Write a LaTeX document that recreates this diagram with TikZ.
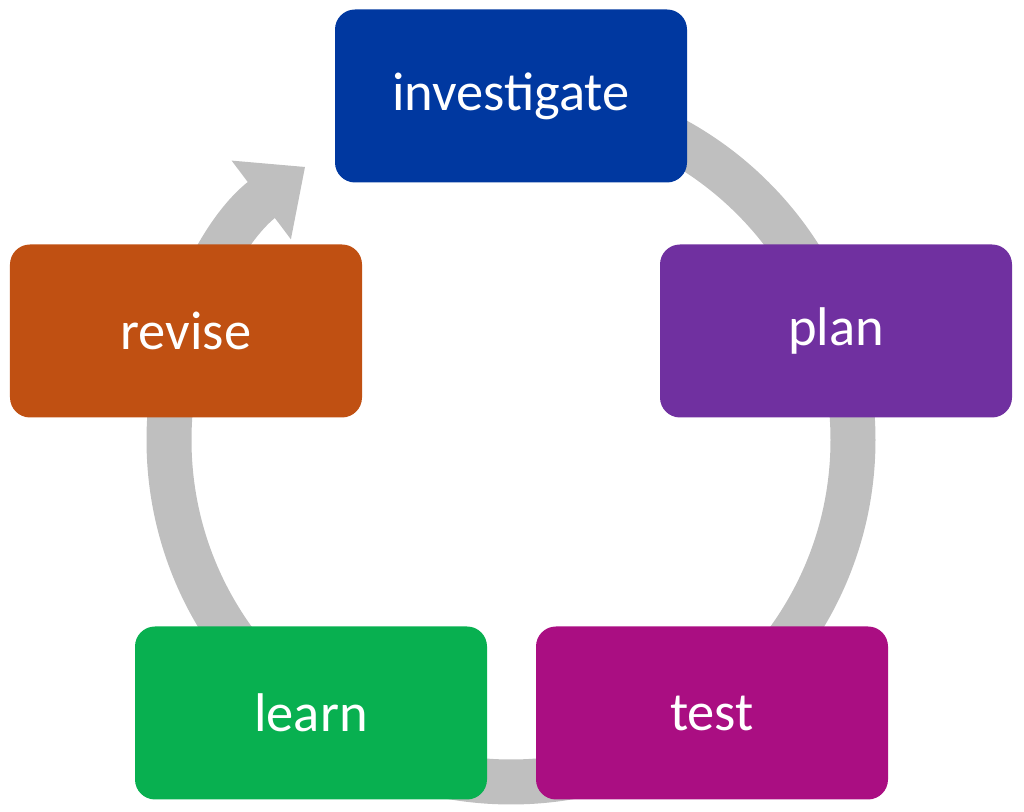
\documentclass[tikz,border=0pt]{standalone}
\usepackage{fontspec}
\setmainfont{Carlito}
\usepackage{tikz}
\usetikzlibrary{arrows.meta,calc}
\definecolor{invblue}{RGB}{0,56,160}
\definecolor{planpurple}{RGB}{112,48,160}
\definecolor{testmagenta}{RGB}{170,14,130}
\definecolor{learngreen}{RGB}{8,176,80}
\definecolor{reviseorange}{RGB}{192,80,18}
\definecolor{ringgray}{RGB}{191,191,191}
\tikzset{
  phase/.style={draw=none, rounded corners=0.2cm, minimum width=3.52cm, minimum height=1.73cm,
    text=white, font=\fontsize{15.5}{18}\selectfont}
}
\begin{document}
\begin{tikzpicture}
                \useasboundingbox (0,0) rectangle (10.24,8.12);
                \coordinate (C) at (5.11,3.72);
                % ring
                \draw[ringgray, line width=0.45cm, -{Triangle[width=0.95cm,length=0.55cm]}]
                    ($(C)+(90:3.42)$) arc (90:-233:3.42);
                % phases
                \node[phase, fill=invblue] (investigate) at (5.11,7.16) {investigate};
                \node[phase, fill=planpurple] (plan) at (8.36,4.81) {plan};
                \node[phase, fill=testmagenta] (test) at (7.12,0.99) {test};
                \node[phase, fill=learngreen] (learn) at (3.11,0.99) {learn};
                \node[phase, fill=reviseorange] (revise) at (1.86,4.81) {revise};
            \end{tikzpicture}
\end{document}
